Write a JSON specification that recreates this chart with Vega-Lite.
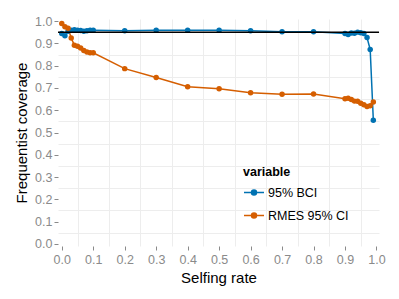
{
  "$schema": "https://vega.github.io/schema/vega-lite/v6.json",
  "width": 321,
  "height": 227,
  "autosize": {"type": "none"},
  "padding": {"left": 58, "top": 19, "right": 20, "bottom": 53},
  "background": "white",
  "config": {
    "view": {"stroke": null},
    "font": "Liberation Sans",
    "axis": {
      "domain": false,
      "labelColor": "#8a8a8a",
      "labelFontSize": 12.5,
      "tickColor": "#8a8a8a",
      "tickSize": 4,
      "titleFontSize": 15,
      "titleFontWeight": "normal",
      "titleColor": "black",
      "gridColor": "#ededed",
      "gridWidth": 1,
      "labelOverlap": false,
      "labelFlush": false
    }
  },
  "datasets": {
    "cov": [
      {"rate": 0.0, "variable": "95% BCI", "coverage": 0.945},
      {"rate": 0.01, "variable": "95% BCI", "coverage": 0.935},
      {"rate": 0.02, "variable": "95% BCI", "coverage": 0.955},
      {"rate": 0.03, "variable": "95% BCI", "coverage": 0.96},
      {"rate": 0.04, "variable": "95% BCI", "coverage": 0.962},
      {"rate": 0.05, "variable": "95% BCI", "coverage": 0.96},
      {"rate": 0.06, "variable": "95% BCI", "coverage": 0.958},
      {"rate": 0.07, "variable": "95% BCI", "coverage": 0.955},
      {"rate": 0.08, "variable": "95% BCI", "coverage": 0.957},
      {"rate": 0.09, "variable": "95% BCI", "coverage": 0.96},
      {"rate": 0.1, "variable": "95% BCI", "coverage": 0.96},
      {"rate": 0.2, "variable": "95% BCI", "coverage": 0.957},
      {"rate": 0.3, "variable": "95% BCI", "coverage": 0.96},
      {"rate": 0.4, "variable": "95% BCI", "coverage": 0.96},
      {"rate": 0.5, "variable": "95% BCI", "coverage": 0.96},
      {"rate": 0.6, "variable": "95% BCI", "coverage": 0.957},
      {"rate": 0.7, "variable": "95% BCI", "coverage": 0.953},
      {"rate": 0.8, "variable": "95% BCI", "coverage": 0.953},
      {"rate": 0.9, "variable": "95% BCI", "coverage": 0.945},
      {"rate": 0.91, "variable": "95% BCI", "coverage": 0.94},
      {"rate": 0.92, "variable": "95% BCI", "coverage": 0.947},
      {"rate": 0.93, "variable": "95% BCI", "coverage": 0.946},
      {"rate": 0.94, "variable": "95% BCI", "coverage": 0.951},
      {"rate": 0.95, "variable": "95% BCI", "coverage": 0.948},
      {"rate": 0.96, "variable": "95% BCI", "coverage": 0.945},
      {"rate": 0.97, "variable": "95% BCI", "coverage": 0.927},
      {"rate": 0.98, "variable": "95% BCI", "coverage": 0.873},
      {"rate": 0.99, "variable": "95% BCI", "coverage": 0.555},
      {"rate": 0.0, "variable": "RMES 95% CI", "coverage": 0.99},
      {"rate": 0.01, "variable": "RMES 95% CI", "coverage": 0.975},
      {"rate": 0.02, "variable": "RMES 95% CI", "coverage": 0.968},
      {"rate": 0.03, "variable": "RMES 95% CI", "coverage": 0.925},
      {"rate": 0.04, "variable": "RMES 95% CI", "coverage": 0.892},
      {"rate": 0.05, "variable": "RMES 95% CI", "coverage": 0.888},
      {"rate": 0.06, "variable": "RMES 95% CI", "coverage": 0.88},
      {"rate": 0.07, "variable": "RMES 95% CI", "coverage": 0.868},
      {"rate": 0.08, "variable": "RMES 95% CI", "coverage": 0.862},
      {"rate": 0.09, "variable": "RMES 95% CI", "coverage": 0.858},
      {"rate": 0.1, "variable": "RMES 95% CI", "coverage": 0.858},
      {"rate": 0.2, "variable": "RMES 95% CI", "coverage": 0.787},
      {"rate": 0.3, "variable": "RMES 95% CI", "coverage": 0.747},
      {"rate": 0.4, "variable": "RMES 95% CI", "coverage": 0.706},
      {"rate": 0.5, "variable": "RMES 95% CI", "coverage": 0.697},
      {"rate": 0.6, "variable": "RMES 95% CI", "coverage": 0.679},
      {"rate": 0.7, "variable": "RMES 95% CI", "coverage": 0.672},
      {"rate": 0.8, "variable": "RMES 95% CI", "coverage": 0.673},
      {"rate": 0.9, "variable": "RMES 95% CI", "coverage": 0.652},
      {"rate": 0.91, "variable": "RMES 95% CI", "coverage": 0.654},
      {"rate": 0.92, "variable": "RMES 95% CI", "coverage": 0.648},
      {"rate": 0.93, "variable": "RMES 95% CI", "coverage": 0.641},
      {"rate": 0.94, "variable": "RMES 95% CI", "coverage": 0.64},
      {"rate": 0.95, "variable": "RMES 95% CI", "coverage": 0.631},
      {"rate": 0.96, "variable": "RMES 95% CI", "coverage": 0.625},
      {"rate": 0.97, "variable": "RMES 95% CI", "coverage": 0.617},
      {"rate": 0.98, "variable": "RMES 95% CI", "coverage": 0.62},
      {"rate": 0.99, "variable": "RMES 95% CI", "coverage": 0.637}
    ],
    "ref": [{"level": 0.95}]
  },
  "resolve": {"axis": {"x": "independent", "y": "independent"}},
  "layer": [
    {
      "data": {"name": "ref"},
      "mark": {"type": "rule", "opacity": 0},
      "encoding": {
        "y": {
          "field": "level", "type": "quantitative",
          "scale": {"domain": [-0.01, 1.01], "nice": false, "zero": false},
          "axis": {
            "orient": "right",
            "values": [0.05, 0.15, 0.25, 0.35, 0.45, 0.55, 0.65, 0.75, 0.85, 0.95],
            "grid": true, "labels": false, "ticks": false, "domain": false, "title": null
          }
        }
      }
    },
    {
      "data": {"name": "ref"},
      "mark": {"type": "rule", "opacity": 0},
      "encoding": {
        "x": {
          "field": "level", "type": "quantitative",
          "scale": {"domain": [-0.012, 1.008], "nice": false, "zero": false},
          "axis": {
            "orient": "top",
            "values": [0.05, 0.15, 0.25, 0.35, 0.45, 0.55, 0.65, 0.75, 0.85, 0.95],
            "grid": true, "labels": false, "ticks": false, "domain": false, "title": null
          }
        }
      }
    },
    {
      "data": {"name": "cov"},
      "layer": [
        {
          "mark": {"type": "line", "strokeWidth": 1.5},
          "encoding": {
            "color": {
              "field": "variable", "type": "nominal",
              "scale": {"domain": ["95% BCI", "RMES 95% CI"], "range": ["#0072B2", "#D55E00"]},
              "legend": {
                "title": "variable",
                "orient": "none",
                "legendX": 185,
                "legendY": 147,
                "titleFontSize": 12.5,
                "titleFontWeight": "bold",
                "titleColor": "black",
                "titlePadding": 3,
                "labelFontSize": 12.5,
                "labelColor": "black",
                "symbolType": "M-1,0H1M-0.25,0A0.25,0.25 0 1,0 0.25,0A0.25,0.25 0 1,0 -0.25,0Z",
                "symbolSize": 400,
                "symbolStrokeWidth": 1.5,
                "rowPadding": 5,
                "labelOffset": 3,
                "encode": {
                  "symbols": {"update": {
                    "stroke": {"scale": "color", "field": "value"},
                    "fill": {"scale": "color", "field": "value"},
                    "strokeWidth": {"value": 1.5}
                  }}
                }
              }
            }
          }
        },
        {
          "mark": {"type": "point", "filled": true, "size": 30, "opacity": 1},
          "encoding": {
            "color": {"field": "variable", "type": "nominal"}
          }
        }
      ],
      "encoding": {
        "x": {
          "field": "rate", "type": "quantitative",
          "axis": {
            "title": "Selfing rate",
            "values": [0, 0.1, 0.2, 0.3, 0.4, 0.5, 0.6, 0.7, 0.8, 0.9, 1.0],
            "format": ".1f",
            "grid": false,
            "labelPadding": 3,
            "titlePadding": 5
          }
        },
        "y": {
          "field": "coverage", "type": "quantitative",
          "axis": {
            "title": "Frequentist coverage",
            "values": [0, 0.1, 0.2, 0.3, 0.4, 0.5, 0.6, 0.7, 0.8, 0.9, 1.0],
            "format": ".1f",
            "grid": false,
            "labelPadding": 2,
            "titlePadding": 5
          }
        }
      }
    },
    {
      "data": {"name": "ref"},
      "mark": {"type": "rule", "color": "black", "strokeWidth": 1.5},
      "encoding": {
        "y": {"field": "level", "type": "quantitative", "axis": null}
      }
    }
  ]
}
